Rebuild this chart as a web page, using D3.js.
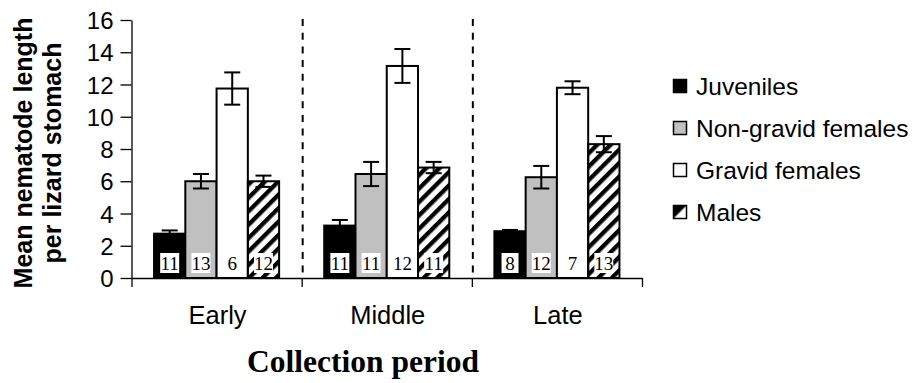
<!DOCTYPE html>
<html>
<head>
<meta charset="utf-8">
<script src="https://cdn.jsdelivr.net/npm/d3@7"></script>
<style>
  html, body { margin: 0; padding: 0; background: #fff; }
  svg { display: block; }
</style>
</head>
<body>
<div id="chart"></div>
<script>
(function() {
  'use strict';

  // 데이터
  const periods = ['Early', 'Middle', 'Late'];
  const groups = ['Juveniles', 'Non-gravid females', 'Gravid females', 'Males'];
  const meanJuveniles = [2.75, 3.25, 2.9];
  const meanNonGravid = [6.0, 6.45, 6.25];
  const meanGravid = [11.75, 13.15, 11.8];
  const meanMales = [6.0, 6.85, 8.3];
  const seJuveniles = [0.2, 0.35, 0.08];
  const seNonGravid = [0.45, 0.75, 0.7];
  const seGravid = [1.0, 1.05, 0.4];
  const seMales = [0.35, 0.35, 0.5];
  const nJuveniles = [11, 11, 8];
  const nNonGravid = [13, 11, 12];
  const nGravid = [6, 12, 7];
  const nMales = [12, 11, 13];
  const yTicks = [0, 2, 4, 6, 8, 10, 12, 14, 16];

  const means = [meanJuveniles, meanNonGravid, meanGravid, meanMales];
  const errs = [seJuveniles, seNonGravid, seGravid, seMales];
  const counts = [nJuveniles, nNonGravid, nGravid, nMales];

  const rows = [];
  periods.forEach((p, pi) => {
    groups.forEach((g, gi) => {
      rows.push({ period: p, group: g, gi, value: means[gi][pi], err: errs[gi][pi], n: counts[gi][pi] });
    });
  });

  const width = 914;
  const height = 383;
  const plot = { left: 131.5, right: 642, top: 20, bottom: 278 };

  const svg = d3.select('#chart')
    .append('svg')
    .attr('width', width)
    .attr('height', height);

  // 빗금 패턴
  const defs = svg.append('defs');
  defs.append('pattern')
    .attr('id', 'hatch')
    .attr('patternUnits', 'userSpaceOnUse')
    .attr('width', 9.5)
    .attr('height', 9.5)
    .attr('patternTransform', 'rotate(45)')
    .append('rect')
    .attr('x', 0)
    .attr('y', 0)
    .attr('width', 4.3)
    .attr('height', 9.5)
    .attr('fill', '#000');

  // 범례용 반쪽 삼각형 무늬
  const half = defs.append('pattern')
    .attr('id', 'halfTri')
    .attr('patternUnits', 'objectBoundingBox')
    .attr('patternContentUnits', 'objectBoundingBox')
    .attr('width', 1)
    .attr('height', 1);
  half.append('rect').attr('width', 1).attr('height', 1).attr('fill', '#fff');
  half.append('path').attr('d', 'M0,0 L1,0 L0,1 Z').attr('fill', '#000');

  const fills = {
    'Juveniles': '#000',
    'Non-gravid females': '#c0c0c0',
    'Gravid females': '#fff',
    'Males': 'url(#hatch)'
  };

  // 스케일
  const x0 = d3.scaleBand()
    .domain(periods)
    .range([plot.left, plot.right])
    .paddingInner(0.265)
    .paddingOuter(0.1325);

  const x1 = d3.scaleBand()
    .domain(groups)
    .range([0, x0.bandwidth()]);

  const y = d3.scaleLinear()
    .domain([0, 16])
    .range([plot.bottom, plot.top]);

  const xEdge = d3.scaleLinear()
    .domain([0, periods.length])
    .range([plot.left, plot.right]);

  // 구분 점선
  svg.append('g')
    .selectAll('line')
    .data([1, 2])
    .enter()
    .append('line')
    .attr('x1', d => xEdge(d) + 1)
    .attr('x2', d => xEdge(d) + 1)
    .attr('y1', y(16) - 1)
    .attr('y2', y(0))
    .attr('stroke', '#000')
    .attr('stroke-width', 2)
    .attr('stroke-dasharray', '7,6.7');

  // 막대
  const bars = svg.append('g');
  bars.selectAll('rect')
    .data(rows)
    .enter()
    .append('rect')
    .attr('x', d => x0(d.period) + x1(d.group))
    .attr('y', d => y(d.value))
    .attr('width', x1.bandwidth())
    .attr('height', d => y(0) - y(d.value))
    .attr('fill', d => fills[d.group])
    .attr('stroke', '#000')
    .attr('stroke-width', 2);

  // 오차 막대
  const eb = svg.append('g').attr('stroke', '#000').attr('stroke-width', 2);
  rows.forEach(d => {
    const cx = x0(d.period) + x1(d.group) + x1.bandwidth() / 2;
    eb.append('line')
      .attr('x1', cx).attr('x2', cx)
      .attr('y1', y(d.value + d.err)).attr('y2', y(d.value - d.err));
    [d.value + d.err, d.value - d.err].forEach(v => {
      eb.append('line')
        .attr('x1', cx - 8).attr('x2', cx + 8)
        .attr('y1', y(v)).attr('y2', y(v));
    });
  });

  // 표본 수 라벨
  const nl = svg.append('g');
  rows.forEach(d => {
    const cx = x0(d.period) + x1(d.group) + x1.bandwidth() / 2;
    const bw = d.n >= 10 ? 19 : 17;
    nl.append('rect')
      .attr('x', cx - bw / 2)
      .attr('y', y(0) - 25)
      .attr('width', bw)
      .attr('height', 20)
      .attr('fill', '#fff');
    nl.append('text')
      .attr('x', cx)
      .attr('y', y(0) - 8.5)
      .attr('text-anchor', 'middle')
      .attr('font-family', '"Liberation Serif", "Times New Roman", serif')
      .attr('font-size', '19px')
      .attr('fill', '#000')
      .text(d.n);
  });

  // Y축
  const yAxis = svg.append('g')
    .attr('transform', `translate(${plot.left},0)`)
    .call(d3.axisLeft(y).tickValues(yTicks).tickSize(11).tickSizeOuter(0).tickPadding(7));
  yAxis.select('.domain').attr('stroke', '#000').attr('stroke-width', 1.3);
  yAxis.selectAll('.tick line').attr('stroke', '#000').attr('stroke-width', 1.3);
  yAxis.selectAll('text')
    .attr('font-family', '"Liberation Sans", Arial, sans-serif')
    .attr('font-size', '24px')
    .attr('fill', '#000')
    .attr('dy', '0.36em');

  // X축 (구간 경계 눈금)
  const xAxis = svg.append('g')
    .attr('transform', `translate(0,${plot.bottom})`)
    .call(d3.axisBottom(xEdge).tickValues([0, 1, 2, 3]).tickFormat('').tickSize(9).tickSizeOuter(0));
  xAxis.select('.domain').attr('stroke', '#000').attr('stroke-width', 1.3);
  xAxis.selectAll('.tick line').attr('stroke', '#000').attr('stroke-width', 1.3);

  svg.append('g')
    .selectAll('text')
    .data(periods)
    .enter()
    .append('text')
    .attr('x', d => x0(d) + x0.bandwidth() / 2 + 1)
    .attr('y', 324)
    .attr('text-anchor', 'middle')
    .attr('font-family', '"Liberation Sans", Arial, sans-serif')
    .attr('font-size', '25.5px')
    .attr('fill', '#000')
    .text(d => d);

  // 축 제목
  svg.append('text')
    .attr('x', 363)
    .attr('y', 372)
    .attr('text-anchor', 'middle')
    .attr('font-family', '"Liberation Serif", "Times New Roman", serif')
    .attr('font-weight', 'bold')
    .attr('font-size', '31.5px')
    .attr('fill', '#000')
    .text('Collection period');

  const yTitle = svg.append('text')
    .attr('transform', 'translate(0,153) rotate(-90)')
    .attr('text-anchor', 'middle')
    .attr('font-family', '"Liberation Sans", Arial, sans-serif')
    .attr('font-weight', 'bold')
    .attr('font-size', '25px')
    .attr('fill', '#000');
  yTitle.append('tspan').attr('x', 0).attr('y', 32).text('Mean nematode length');
  yTitle.append('tspan').attr('x', 0).attr('y', 61).text('per lizard stomach');

  // 범례
  const legend = svg.append('g').attr('transform', 'translate(673,0)');
  groups.forEach((g, i) => {
    const cy = 86 + i * 42;
    legend.append('rect')
      .attr('x', 0.5)
      .attr('y', cy - 6.5)
      .attr('width', 13)
      .attr('height', 13)
      .attr('fill', g === 'Males' ? 'url(#halfTri)' : fills[g])
      .attr('stroke', '#000')
      .attr('stroke-width', 1.5);
    legend.append('text')
      .attr('x', 23)
      .attr('y', cy)
      .attr('dy', '0.36em')
      .attr('font-family', '"Liberation Sans", Arial, sans-serif')
      .attr('font-size', '24.5px')
      .attr('fill', '#000')
      .text(g);
  });
})();
</script>
</body>
</html>
